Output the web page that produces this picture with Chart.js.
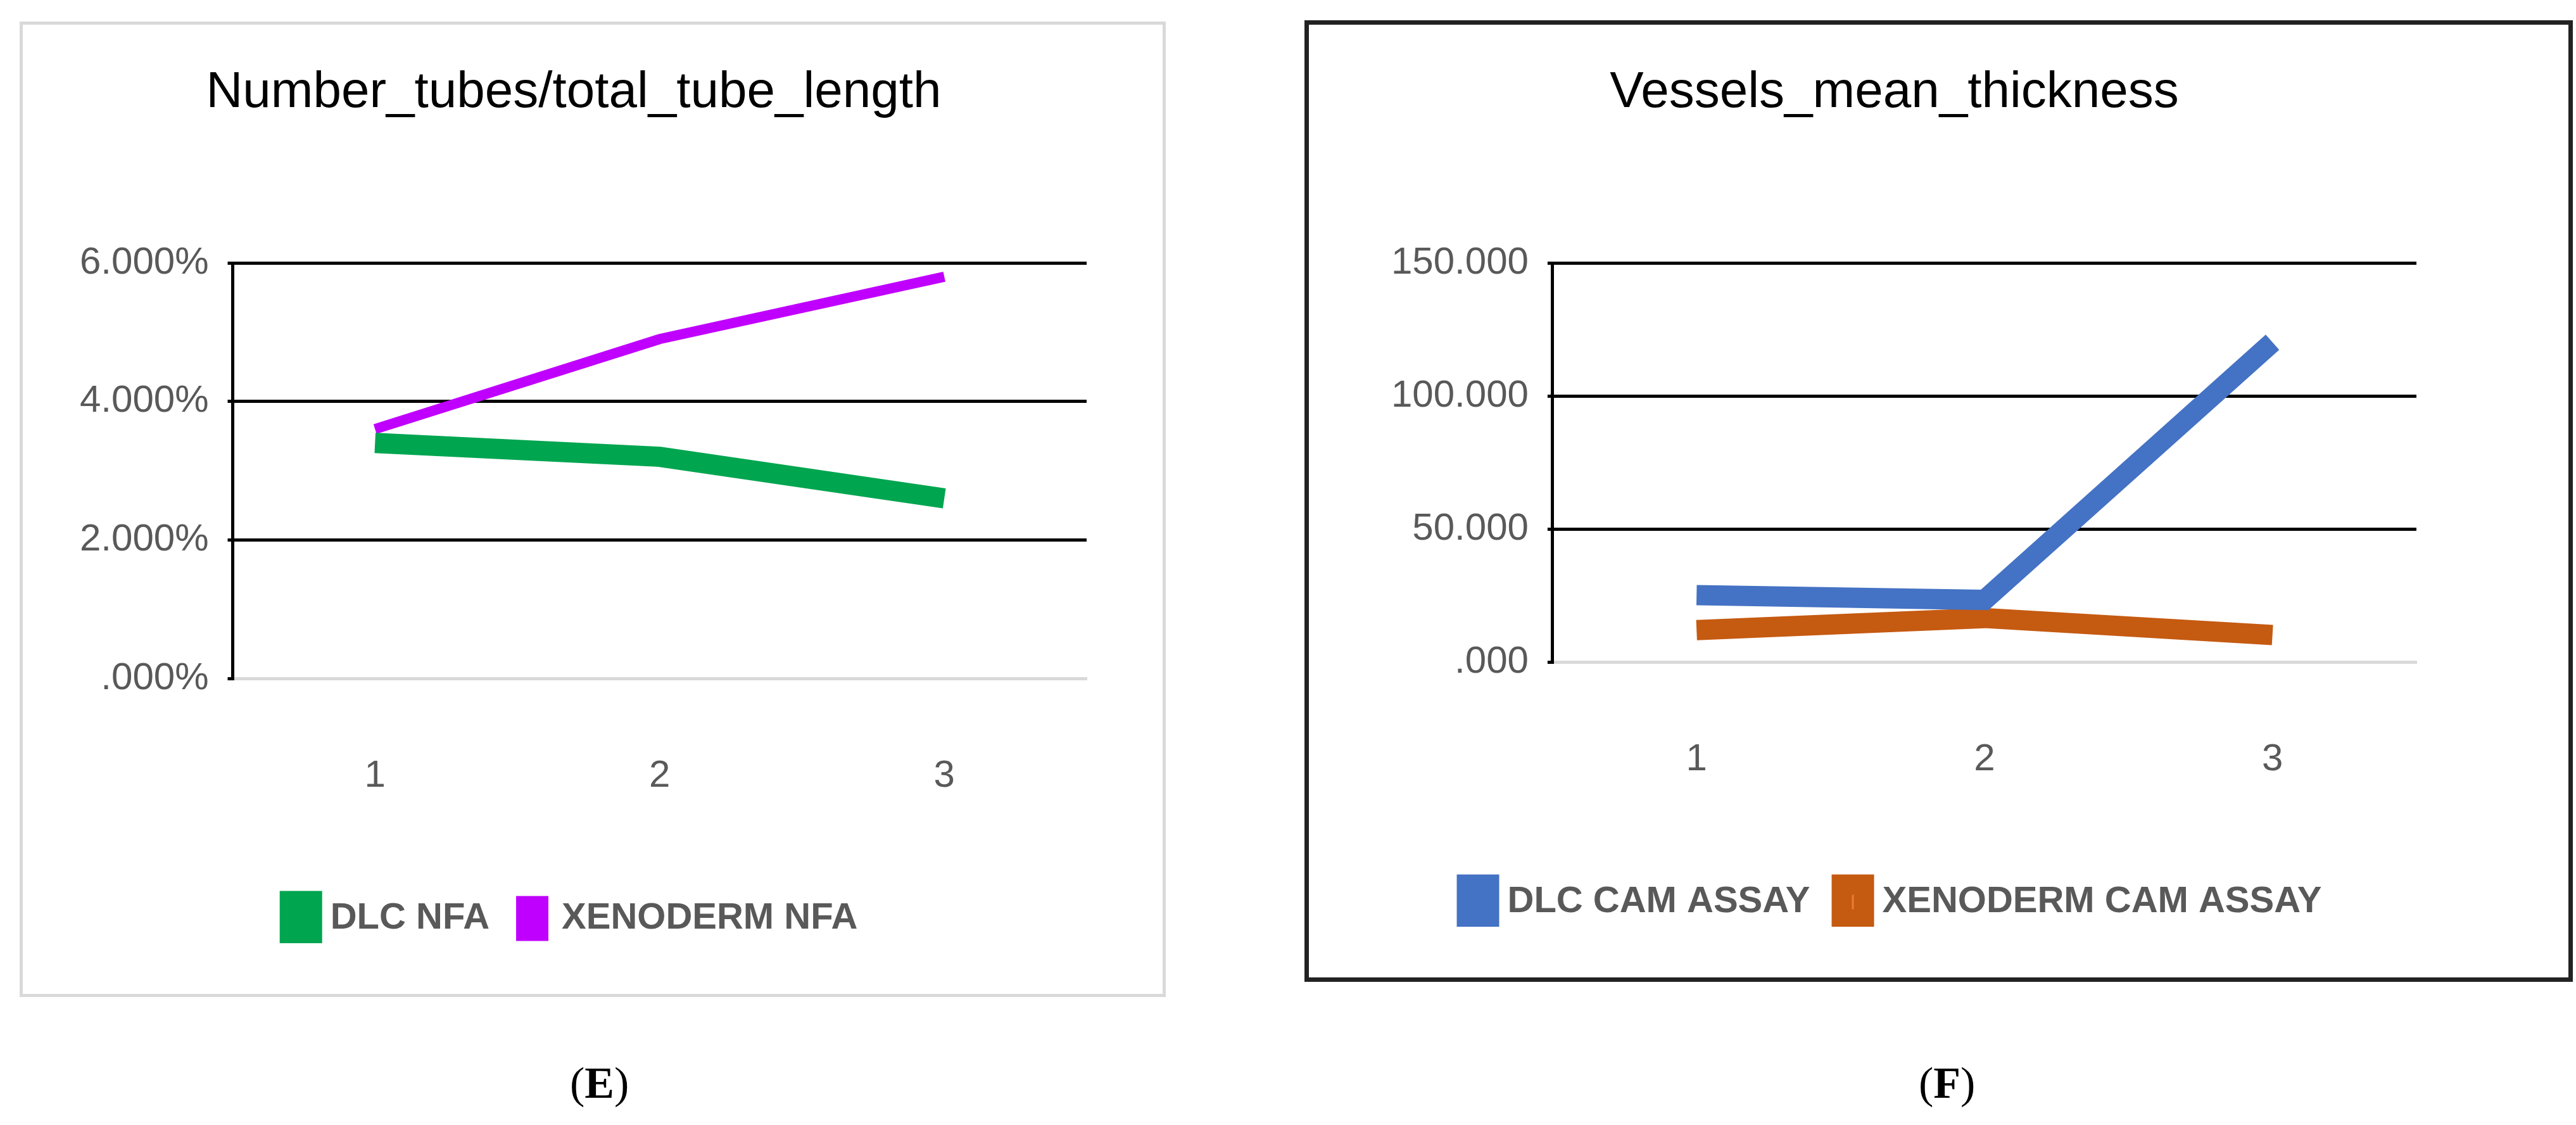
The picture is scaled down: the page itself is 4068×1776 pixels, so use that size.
<!DOCTYPE html>
<html><head><meta charset="utf-8">
<script src="https://cdn.jsdelivr.net/npm/chart.js@4"></script>
<style>
body{margin:0;background:#fff;width:4068px;height:1776px;position:relative;overflow:hidden;font-family:'Liberation Sans Narrow','Liberation Sans',sans-serif}
.p{position:absolute;box-sizing:border-box}
#pe{left:31px;top:34px;width:1810px;height:1540px;border:5px solid #d9d9d9}
#pf{left:2060px;top:32px;width:2003px;height:1518px;border:7px solid #222}
.lab{position:absolute;top:1670px;font:70px 'Liberation Serif',serif}
</style></head><body>
<div class="p" id="pe"><canvas id="c1"></canvas></div>
<div class="p" id="pf"><canvas id="c2"></canvas></div>
<div class="lab" style="left:900px">(<b>E</b>)</div>
<div class="lab" style="left:3030px">(<b>F</b>)</div>
<script>
const categories=['1','2','3'];
const dlcNFA=[0.034,0.032,0.026];
const xenoNFA=[0.036,0.049,0.058];
const dlcCAM=[25.12089281,23.31689648,120.1821679];
const xenoCAM=[11.97516014,16.51256629,10.09892732];
const ticksE=[0,0.02,0.04,0.06];
const ticksF=[0,50,100,150];
const FONT="'Liberation Sans Narrow','Liberation Sans',sans-serif";
Chart.defaults.font.family=FONT;
Chart.defaults.color='#595959';
const boxLabels={id:'boxLabels',afterDatasetsDraw(ch){
  const ctx=ch.ctx;ctx.save();ctx.font='56px '+FONT;ctx.textBaseline='middle';ctx.textAlign='center';
  const offs=[[[60,70],[80,110],[0,-120]],[[200,-110],[250,-170],[200,60]]];
  ch.data.datasets.forEach((ds,di)=>{ch.getDatasetMeta(di).data.forEach((pt,i)=>{
    const t=String(ds.data[i]);const w=ctx.measureText(t).width+30,h=90;
    const x=pt.x+offs[di][i][0],y=pt.y+offs[di][i][1];
    ctx.fillStyle='#fff';ctx.fillRect(x-w/2,y-h/2,w,h);
    ctx.strokeStyle='#404040';ctx.lineWidth=5;ctx.strokeRect(x-w/2,y-h/2,w,h);
    ctx.fillStyle='#222';ctx.fillText(t,x,y);});});
  ctx.restore();}};
function opts(title,yt,fmt,ymax,padL,padR){return{responsive:true,maintainAspectRatio:false,animation:false,
  layout:{padding:{left:padL,right:padR,top:60,bottom:80}},
  plugins:{title:{display:true,text:title,color:'#000',font:{size:80,weight:'normal'},padding:{bottom:220}},
    legend:{position:'bottom',labels:{font:{size:58,weight:'bold'},color:'#595959',boxWidth:35,boxHeight:55,padding:50}},
    tooltip:{enabled:false}},
  scales:{x:{offset:true,grid:{display:false},border:{color:'#d9d9d9',width:5},ticks:{font:{size:60},padding:110}},
    y:{min:0,max:ymax,afterBuildTicks(a){a.ticks=yt.map(v=>({value:v}));},
      grid:{color:'#000',lineWidth:5},border:{color:'#000',width:5},
      ticks:{font:{size:60},padding:30,callback:fmt}}}};}
new Chart(document.getElementById('c1'),{type:'line',data:{labels:categories,datasets:[
 {label:'DLC NFA',data:dlcNFA,borderColor:'#00a550',backgroundColor:'#00a550',borderWidth:32,pointRadius:0},
 {label:'XENODERM NFA',data:xenoNFA,borderColor:'#c000ff',backgroundColor:'#c000ff',borderWidth:16,pointRadius:0}]},
 options:opts('Number_tubes/total_tube_length',ticksE,v=>(v*100).toFixed(3).replace(/^0/,'')+'%',0.06,60,120)});
new Chart(document.getElementById('c2'),{type:'line',data:{labels:categories,datasets:[
 {label:'DLC CAM ASSAY',data:dlcCAM,borderColor:'#4472c4',backgroundColor:'#4472c4',borderWidth:32,pointRadius:0},
 {label:'XENODERM CAM ASSAY',data:xenoCAM,borderColor:'#c55a11',backgroundColor:'#ed7d31',borderWidth:32,pointRadius:0}]},
 options:opts('Vessels_mean_thickness',ticksF,v=>v.toFixed(3).replace(/^0/,''),150,100,240)},
 );
</script></body></html>
